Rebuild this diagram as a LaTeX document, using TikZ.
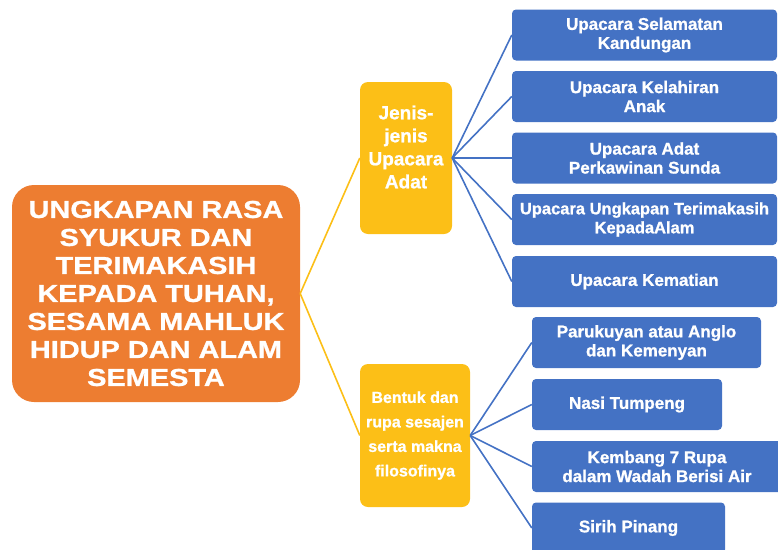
\documentclass[tikz,border=0pt]{standalone}
\usepackage{fontspec}
\setmainfont{Liberation Sans}[BoldFeatures={FakeBold=1}]
\newfontfamily\widefont{Liberation Sans}[FakeStretch=1.18, BoldFeatures={FakeBold=1}]
\usepackage{tikz}
\definecolor{orangebox}{HTML}{ED7D31}
\definecolor{yellowbox}{HTML}{FCBF17}
\definecolor{bluebox}{HTML}{4472C4}

\begin{document}
\begin{tikzpicture}[x=1pt, y=-1pt]
\tikzstyle{every node}=[text=white, align=center, inner sep=0pt];
\tikzstyle{rootbox}=[fill=orangebox, rounded corners=22pt, minimum width=288pt, minimum height=217pt, font=\widefont\bfseries\fontsize{24.5}{28}\selectfont];
\tikzstyle{groupbox}=[fill=yellowbox, rounded corners=8pt];
\tikzstyle{itembox}=[fill=bluebox, rounded corners=4pt, minimum height=51pt, font=\bfseries\fontsize{17}{19}\selectfont];
\tikzstyle{yellowline}=[draw=yellowbox, line width=1.6pt];
\tikzstyle{blueline}=[draw=bluebox, line width=1.6pt];
\useasboundingbox (0,0) rectangle (778,549);
% root
\path (156,293.5) node[rootbox] (R) {UNGKAPAN RASA\\SYUKUR DAN\\TERIMAKASIH\\KEPADA TUHAN,\\SESAMA MAHLUK\\HIDUP DAN ALAM\\SEMESTA};
% groups
\path (406,158) node[groupbox, minimum width=92pt, minimum height=152pt] (J) {};
\path (406,147) node[font=\bfseries\fontsize{19}{23}\selectfont] (Jt) {Jenis-\\jenis\\Upacara\\Adat};
\path (415,435.5) node[groupbox, minimum width=110pt, minimum height=143pt, font=\bfseries\fontsize{16}{24.5}\selectfont] (S) {Bentuk dan\\rupa sesajen\\serta makna\\filosofinya};
% upacara
\path (644.5,35) node[itembox, minimum width=265pt] (U1) {Upacara Selamatan\\Kandungan};
\path (644.5,96.5) node[itembox, minimum width=265pt] (U2) {Upacara Kelahiran\\Anak};
\path (644.5,158) node[itembox, minimum width=265pt] (U3) {Upacara Adat\\Perkawinan Sunda};
\path (644.5,219.5) node[itembox, minimum width=265pt, font=\bfseries\fontsize{16.5}{19}\selectfont] (U4) {Upacara Ungkapan Terimakasih\\KepadaAlam};
\path (644.5,281.5) node[itembox, minimum width=265pt] (U5) {Upacara Kematian};
% sesajen
\path (646.5,342.5) node[itembox, minimum width=229pt] (P1) {Parukuyan atau Anglo\\dan Kemenyan};
\path (627,404.5) node[itembox, minimum width=190pt] (P2) {Nasi Tumpeng};
\path (657,466.5) node[itembox, minimum width=250pt] (P3) {Kembang 7 Rupa\\dalam Wadah Berisi Air};
\path (628.5,528) node[itembox, minimum width=193pt] (P4) {Sirih Pinang};
% lines
\path[yellowline] (R.east) -- (J.west);
\path[yellowline] (R.east) -- (S.west);
\path[blueline] (J.east) -- (U1.west);
\path[blueline] (J.east) -- (U2.west);
\path[blueline] (J.east) -- (U3.west);
\path[blueline] (J.east) -- (U4.west);
\path[blueline] (J.east) -- (U5.west);
\path[blueline] (S.east) -- (P1.west);
\path[blueline] (S.east) -- (P2.west);
\path[blueline] (S.east) -- (P3.west);
\path[blueline] (S.east) -- (P4.west);
\end{tikzpicture}
\end{document}
